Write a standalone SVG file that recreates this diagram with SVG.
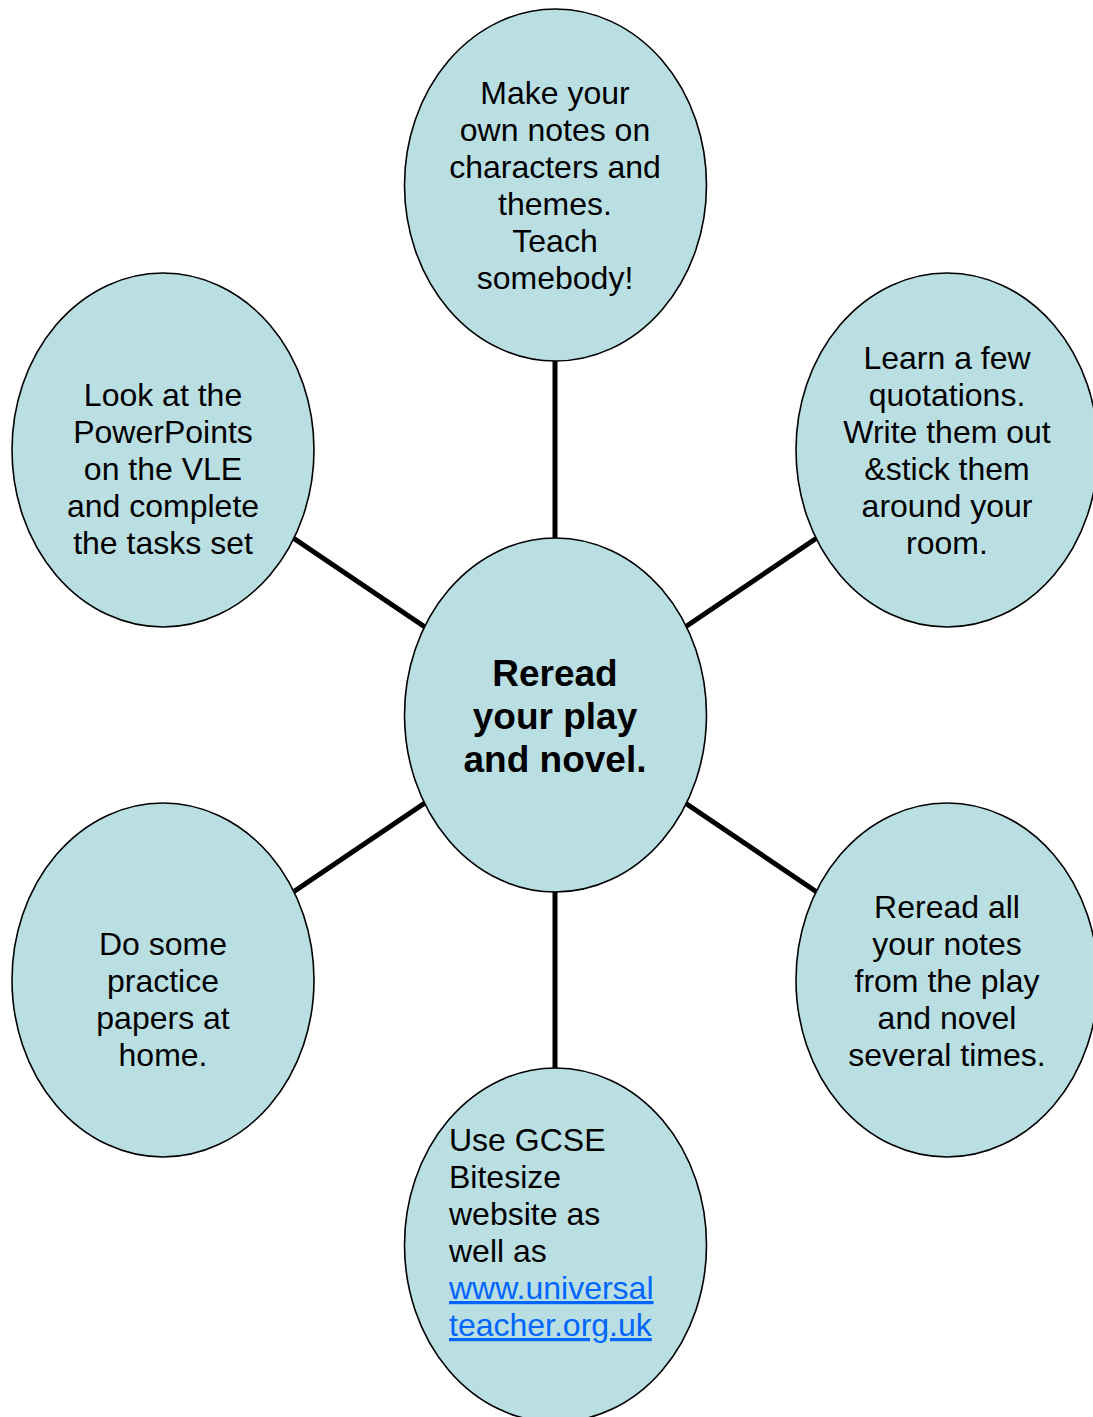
<svg xmlns="http://www.w3.org/2000/svg" width="1093" height="1417" viewBox="0 0 1093 1417">
<style>
.bub{fill:#BADFE3;stroke:#000;stroke-width:1.6}
.t{font-family:"Liberation Sans",Arial,sans-serif;font-size:32px;fill:#000;text-anchor:middle}
.tl{font-family:"Liberation Sans",Arial,sans-serif;font-size:32px;fill:#000}
.b{font-family:"Liberation Sans",Arial,sans-serif;font-size:37px;font-weight:bold;fill:#000;text-anchor:middle}
.lnk{fill:#0066FF;text-decoration:underline}
.c{stroke:#000;stroke-width:5;fill:none}
</style>
<rect width="1093" height="1417" fill="#fff"/>
<g id="connectors">
<line class="c" x1="555" y1="715" x2="555" y2="185"/>
<line class="c" x1="555" y1="715" x2="555" y2="1245"/>
<line class="c" x1="555" y1="715" x2="163" y2="450"/>
<line class="c" x1="555" y1="715" x2="947" y2="450"/>
<line class="c" x1="555" y1="715" x2="163" y2="980"/>
<line class="c" x1="555" y1="715" x2="947" y2="980"/>
</g>
<g id="top">
<ellipse class="bub" cx="555.5" cy="185" rx="151" ry="176"/>
<text class="t" x="555"><tspan x="555" y="104">Make your</tspan><tspan x="555" y="141">own notes on</tspan><tspan x="555" y="178">characters and</tspan><tspan x="555" y="215">themes.</tspan><tspan x="555" y="252">Teach</tspan><tspan x="555" y="289">somebody!</tspan></text>
</g>
<g id="top-left">
<ellipse class="bub" cx="163" cy="450" rx="151" ry="177"/>
<text class="t"><tspan x="163" y="406">Look at the</tspan><tspan x="163" y="443">PowerPoints</tspan><tspan x="163" y="480">on the VLE</tspan><tspan x="163" y="517">and complete</tspan><tspan x="163" y="554">the tasks set</tspan></text>
</g>
<g id="top-right">
<ellipse class="bub" cx="947" cy="450" rx="151" ry="177"/>
<text class="t"><tspan x="947" y="369">Learn a few</tspan><tspan x="947" y="406">quotations.</tspan><tspan x="947" y="443">Write them out</tspan><tspan x="947" y="480">&amp;stick them</tspan><tspan x="947" y="517">around your</tspan><tspan x="947" y="554">room.</tspan></text>
</g>
<g id="center">
<ellipse class="bub" cx="555.5" cy="715" rx="151" ry="177"/>
<text class="b"><tspan x="555" y="686">Reread</tspan><tspan x="555" y="729">your play</tspan><tspan x="555" y="772">and novel.</tspan></text>
</g>
<g id="bottom-left">
<ellipse class="bub" cx="163" cy="980" rx="151" ry="177"/>
<text class="t"><tspan x="163" y="955">Do some</tspan><tspan x="163" y="992">practice</tspan><tspan x="163" y="1029">papers at</tspan><tspan x="163" y="1066">home.</tspan></text>
</g>
<g id="bottom-right">
<ellipse class="bub" cx="947" cy="980" rx="151" ry="177"/>
<text class="t"><tspan x="947" y="918">Reread all</tspan><tspan x="947" y="955">your notes</tspan><tspan x="947" y="992">from the play</tspan><tspan x="947" y="1029">and novel</tspan><tspan x="947" y="1066">several times.</tspan></text>
</g>
<g id="bottom">
<ellipse class="bub" cx="555.5" cy="1245" rx="151" ry="177"/>
<text class="tl"><tspan x="449" y="1151">Use GCSE</tspan><tspan x="449" y="1188">Bitesize</tspan><tspan x="449" y="1225">website as</tspan><tspan x="449" y="1262">well as</tspan><tspan class="lnk" x="449" y="1299">www.universal</tspan><tspan class="lnk" x="449" y="1336">teacher.org.uk</tspan></text>
</g>
</svg>
